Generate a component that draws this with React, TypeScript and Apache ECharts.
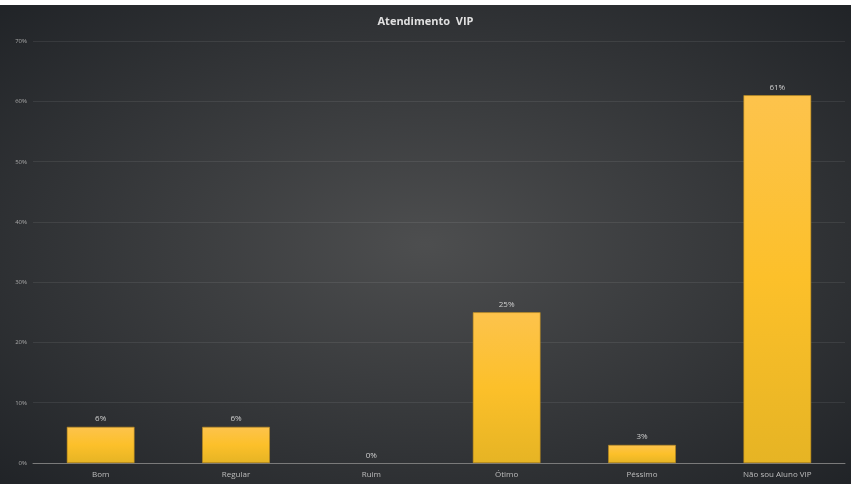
import React, { useEffect, useRef } from "react";
import * as echarts from "echarts";

const categories = ["Bom", "Regular", "Ruim", "Ótimo", "Péssimo", "Não sou Aluno VIP"];
const values = [6, 6, 0, 25, 3, 61];
const titleText = "Atendimento  VIP";

export default function App() {
  const ref = useRef<HTMLDivElement>(null);
  useEffect(() => {
    const chart = echarts.init(ref.current!, null, { renderer: "svg" });
    chart.setOption({
      animation: false,
      backgroundColor: {
        type: "radial",
        x: 0.5,
        y: 0.5,
        r: 0.75,
        colorStops: [
          { offset: 0, color: "#4d4e4f" },
          { offset: 1, color: "#1e2125" },
        ],
      },
      title: {
        text: titleText,
        left: "center",
        top: 5,
        textStyle: {
          color: "#e0e0e0",
          fontSize: 11,
          fontWeight: "bold",
          fontFamily: "Open Sans",
        },
      },
      grid: { left: 33, right: 6, top: 36, bottom: 21 },
      xAxis: {
        type: "category",
        data: categories,
        axisLine: { show: true, lineStyle: { color: "#7a7a7a", width: 1 } },
        axisTick: { show: false },
        axisLabel: { color: "#bdbdbd", fontSize: 8, fontFamily: "Open Sans", margin: 6 },
      },
      yAxis: {
        type: "value",
        min: 0,
        max: 70,
        interval: 10,
        axisLine: { show: false },
        axisTick: { show: false },
        axisLabel: {
          color: "#a8a8a8",
          fontSize: 6,
          fontFamily: "Open Sans",
          margin: 6,
          formatter: (v: number) => v + "%",
        },
        splitLine: { lineStyle: { color: "rgba(255,255,255,0.08)", width: 1 } },
      },
      series: [
        {
          type: "bar",
          data: values.map((v) => (v === 0 ? { value: v, itemStyle: { borderWidth: 0 } } : v)),
          barWidth: "50%",
          itemStyle: {
            color: {
              type: "linear",
              x: 0,
              y: 0,
              x2: 0,
              y2: 1,
              colorStops: [
                { offset: 0, color: "#fdc34c" },
                { offset: 0.5, color: "#fcc02a" },
                { offset: 1, color: "#e6b424" },
              ],
            },
            borderColor: "#b98a1c",
            borderWidth: 0.6,
          },
          label: {
            show: true,
            position: "top",
            distance: 5,
            color: "#cfcfcf",
            fontSize: 8,
            fontFamily: "Open Sans",
            formatter: (p: any) => p.value + "%",
          },
        },
      ],
    });
    return () => chart.dispose();
  }, []);
  return (
    <div
      ref={ref}
      style={{ position: "fixed", left: 0, top: 5, width: 851, height: 479 }}
    />
  );
}
